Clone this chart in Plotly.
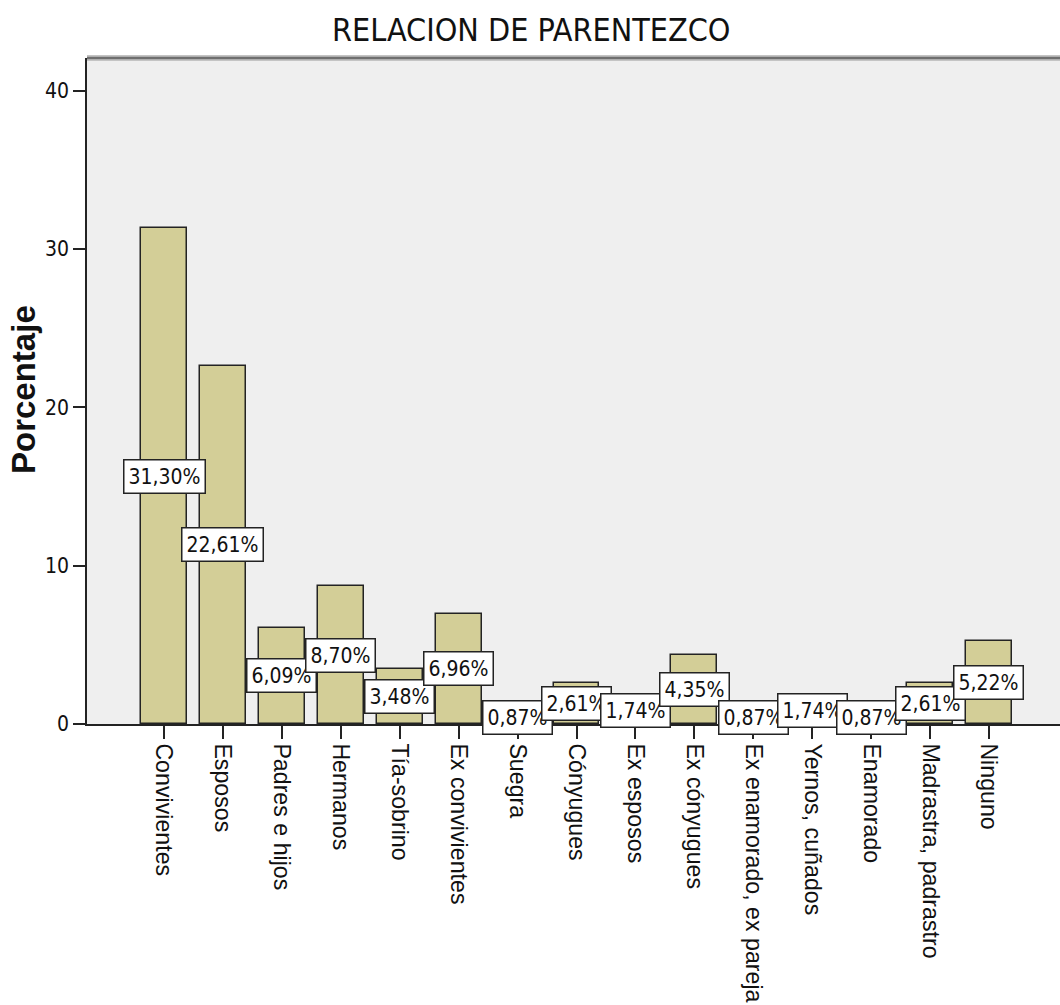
import plotly.graph_objects as go

# Relationship categories and their percentages
categorias = [
    "Convivientes", "Esposos", "Padres e hijos", "Hermanos", "Tía-sobrino",
    "Ex convivientes", "Suegra", "Cónyugues", "Ex esposos", "Ex cónyugues",
    "Ex enamorado, ex pareja", "Yernos, cuñados", "Enamorado",
    "Madrastra, padrastro", "Ninguno",
]
porcentajes = [31.30, 22.61, 6.09, 8.70, 3.48, 6.96, 0.87, 2.61, 1.74, 4.35,
               0.87, 1.74, 0.87, 2.61, 5.22]
y_ticks = [0, 10, 20, 30, 40]

titulo = "RELACION DE PARENTEZCO"
eje_y = "Porcentaje"

NARROW = "DejaVu Sans Condensed, Liberation Sans Narrow, Arial Narrow, sans-serif"
REGULAR = "Liberation Sans, Arial, sans-serif"
BAR_FILL = "#d3ce97"
EDGE = "#232323"

W, H = 1060, 1005
M_L, M_R, M_T, M_B = 87, 0, 58, 281
PW, PH = W - M_L - M_R, H - M_T - M_B


def px_to_paper(px, py):
    """Pixel position on the page -> paper coordinates of the plot area."""
    return (px - M_L) / PW, (H - M_B - py) / PH


x_idx = list(range(len(categorias)))

fig = go.Figure()
fig.add_trace(go.Bar(
    x=x_idx,
    y=porcentajes,
    width=0.78,
    marker=dict(color=BAR_FILL, line=dict(color=EDGE, width=1.5)),
    hoverinfo="skip",
))

# Boxed value labels at the middle of each bar
for i, v in zip(x_idx, porcentajes):
    fig.add_annotation(
        x=i, y=v / 2, xref="x", yref="y",
        text=f"{v:.2f}%".replace(".", ","),
        showarrow=False,
        font=dict(family=NARROW, size=21, color="#111"),
        bgcolor="white", bordercolor=EDGE, borderwidth=1.5, borderpad=4,
        xanchor="center", yanchor="middle",
    )

# Title and y-axis title
tx, ty = px_to_paper(531, 30)
fig.add_annotation(
    x=tx, y=ty, xref="paper", yref="paper", xanchor="center", yanchor="middle",
    text=titulo, showarrow=False,
    font=dict(family=NARROW, size=32, color="#111"),
)
yx, yy = px_to_paper(23, 390)
fig.add_annotation(
    x=yx, y=yy, xref="paper", yref="paper", xanchor="center", yanchor="middle",
    text=f"<b>{eje_y}</b>", showarrow=False, textangle=-90,
    font=dict(family=REGULAR, size=33, color="#111"),
)

# Shaded top frame line of the plot area
fig.add_shape(type="line", xref="paper", yref="paper", x0=0, x1=1, y0=1, y1=1,
              line=dict(color="#c4c4c4", width=6), layer="above")
fig.add_shape(type="line", xref="paper", yref="paper", x0=0, x1=1, y0=1, y1=1,
              line=dict(color="#6f6f6f", width=2.5), layer="above")

fig.update_layout(
    width=W, height=H,
    margin=dict(l=M_L, r=M_R, t=M_T, b=M_B),
    paper_bgcolor="white",
    plot_bgcolor="#efefef",
    showlegend=False,
    bargap=0,
    xaxis=dict(
        range=[-1.307, 15.205],
        tickmode="array", tickvals=x_idx, ticktext=categorias,
        tickangle=90,
        ticks="outside", ticklen=13, tickwidth=1.5, tickcolor=EDGE,
        showline=True, linecolor=EDGE, linewidth=1.5,
        showgrid=False, zeroline=False, automargin=False,
        tickfont=dict(family=REGULAR, size=23.2, color="#111"),
    ),
    yaxis=dict(
        range=[0, 42.06],
        tickmode="array", tickvals=y_ticks,
        ticks="outside", ticklen=12, tickwidth=1.5, tickcolor=EDGE,
        showline=True, linecolor=EDGE, linewidth=1.5,
        showgrid=False, zeroline=False, automargin=False,
        tickfont=dict(family=NARROW, size=21, color="#111"),
    ),
)

fig.write_html("out.html")
